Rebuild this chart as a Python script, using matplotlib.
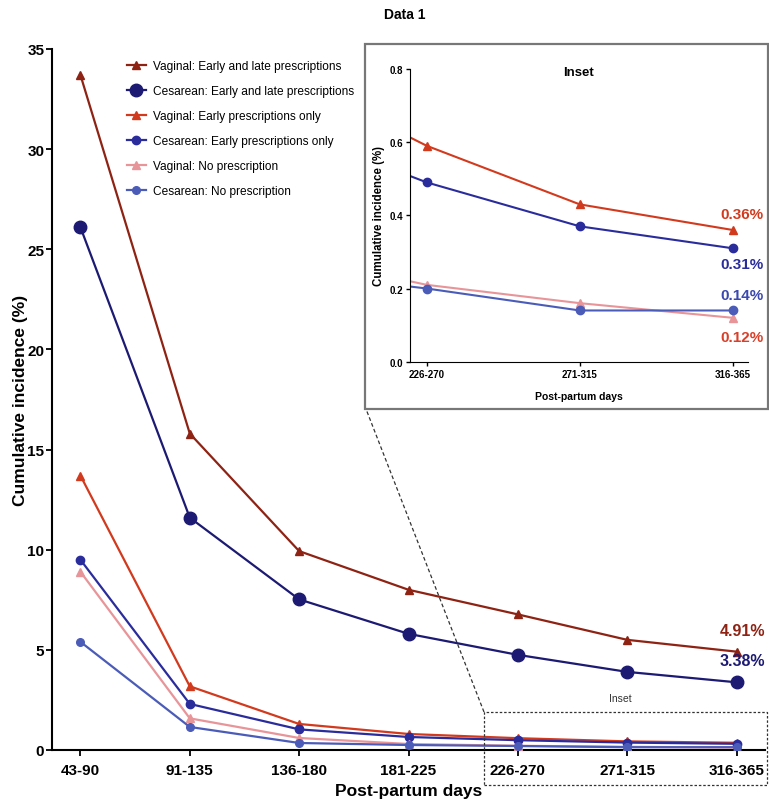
import matplotlib
matplotlib.use("Agg")
import matplotlib.pyplot as plt
from matplotlib.patches import Rectangle
from matplotlib.lines import Line2D

plt.rcParams['font.family'] = ['Liberation Sans', 'DejaVu Sans']

categories = ["43-90", "91-135", "136-180", "181-225", "226-270", "271-315", "316-365"]

vag_early_late = [33.7, 15.8, 9.93, 8.0, 6.77, 5.5, 4.91]
ces_early_late = [26.1, 11.6, 7.52, 5.8, 4.75, 3.9, 3.38]
vag_early_only = [13.7, 3.18, 1.3, 0.8, 0.59, 0.43, 0.36]
ces_early_only = [9.5, 2.3, 1.03, 0.65, 0.49, 0.37, 0.31]
vag_none = [8.9, 1.58, 0.6, 0.3, 0.21, 0.16, 0.12]
ces_none = [5.4, 1.15, 0.35, 0.25, 0.20, 0.14, 0.14]

labels = ["Vaginal: Early and late prescriptions",
          "Cesarean: Early and late prescriptions",
          "Vaginal: Early prescriptions only",
          "Cesarean: Early prescriptions only",
          "Vaginal: No prescription",
          "Cesarean: No prescription"]

series = [vag_early_late, ces_early_late, vag_early_only, ces_early_only, vag_none, ces_none]
colors = ["#8E2314", "#1C1A72", "#D23A1E", "#2A2C9C", "#E8959A", "#4B5CB8"]
markers = ["^", "o", "^", "o", "^", "o"]
msizes = [5.5, 9, 5.5, 6, 5.5, 5.5]

W, H = 769, 803
fig = plt.figure(figsize=(W / 100, H / 100), dpi=100)
ax = fig.add_axes([52 / W, 1 - 751 / H, (765 - 52) / W, (751 - 50) / H])

x = list(range(len(categories)))
for s, c, m, ms, lab in zip(series, colors, markers, msizes, labels):
    ax.plot(x, s, color=c, marker=m, markersize=ms, linewidth=1.6, label=lab,
            markeredgecolor=c, zorder=3)

ax.set_xlim(-0.26, 6.26)
ax.set_ylim(0, 35)
ax.set_yticks([0, 5, 10, 15, 20, 25, 30, 35])
ax.set_xticks(x)
ax.set_xticklabels(categories)
for sp in ["top", "right"]:
    ax.spines[sp].set_visible(False)
for sp in ["left", "bottom"]:
    ax.spines[sp].set_linewidth(1.5)
ax.tick_params(axis="both", direction="out", length=4, width=1.3, labelsize=11)
ax.tick_params(axis="y", pad=1.5)
ax.tick_params(axis="x", pad=5.5)
for t in ax.get_xticklabels() + ax.get_yticklabels():
    t.set_fontweight("bold")
ax.set_xlabel("Post-partum days", fontsize=12.5, fontweight="bold", labelpad=4)
ax.set_ylabel("Cumulative incidence (%)", fontsize=12.5, fontweight="bold")
ax.yaxis.set_label_coords(-0.033, 0.5)

leg = ax.legend(loc="upper left", bbox_to_anchor=(70 / (765 - 52), 1 - 6 / 701), frameon=False,
                fontsize=8.6, labelspacing=1.1, handlelength=1.6, handletextpad=0.6,
                borderaxespad=0.0)
leg.set_zorder(10)

ax.annotate(f"{vag_early_late[-1]:.2f}%", xy=(6, vag_early_late[-1]), xytext=(4, 15),
            textcoords="offset points", ha="center", va="center", color=colors[0],
            fontsize=11.5, fontweight="bold")
ax.annotate(f"{ces_early_late[-1]:.2f}%", xy=(6, ces_early_late[-1]), xytext=(4, 16),
            textcoords="offset points", ha="center", va="center", color=colors[1],
            fontsize=11.5, fontweight="bold")

fig.text(405 / W, 1 - 15 / H, "Data 1", ha="center", va="center", fontsize=10, fontweight="bold")

# dashed region marker and connector
fig.add_artist(Rectangle((484 / W, 1 - 786 / H), (767 - 484) / W, (786 - 713) / H,
                         transform=fig.transFigure, fill=False, linestyle=(0, (2, 1.5)),
                         linewidth=0.9, edgecolor="#333333"))
fig.add_artist(Line2D([484 / W, 366 / W], [1 - 713 / H, 1 - 410 / H], transform=fig.transFigure,
                      linestyle=(0, (3, 2)), linewidth=0.9, color="#333333"))
fig.text(620 / W, 1 - 699 / H, "Inset", ha="center", va="center", fontsize=7.5, color="#333333")

# inset frame
fig.add_artist(Rectangle((365 / W, 1 - 410 / H), (768 - 365) / W, (410 - 45) / H,
                         transform=fig.transFigure, facecolor="white", edgecolor="#777777",
                         linewidth=1.6, zorder=4))

axi = fig.add_axes([410 / W, 1 - 362.7 / H, (748 - 410) / W, (362.7 - 70) / H], zorder=5)
axi.patch.set_alpha(0)
for s, c, m, ms in zip(series[2:], colors[2:], markers[2:], [5.5, 6, 5.5, 6]):
    axi.plot(x, s, color=c, marker=m, markersize=ms, linewidth=1.5, markeredgecolor=c)
axi.set_xlim(3.89, 6.1)
axi.set_ylim(0, 0.8)
axi.set_yticks([0.0, 0.2, 0.4, 0.6, 0.8])
axi.set_xticks(x[4:])
axi.set_xticklabels(categories[4:])
for sp in ["top", "right"]:
    axi.spines[sp].set_visible(False)
axi.tick_params(axis="both", direction="out", length=3, width=1, labelsize=7, pad=2)
for t in axi.get_xticklabels() + axi.get_yticklabels():
    t.set_fontweight("bold")
axi.set_xlabel("Post-partum days", fontsize=7.5, fontweight="bold", labelpad=9)
axi.set_ylabel("Cumulative incidence (%)", fontsize=8.3, fontweight="bold", labelpad=3)
axi.text(0.5, 0.99, "Inset", transform=axi.transAxes, ha="center", va="center",
         fontsize=9.5, fontweight="bold")

ann_colors = ["#D23A1E", "#2A2C9C", "#D8402A", "#3A48B0"]
offs = [(7, 11.5), (7, -11.5), (7, -13.5), (7, 11.5)]
for s, c, o in zip(series[2:], ann_colors, offs):
    axi.annotate(f"{s[-1]:.2f}%", xy=(6, s[-1]), xytext=o, textcoords="offset points",
                 ha="center", va="center", color=c, fontsize=11, fontweight="bold")

fig.savefig("out.png", dpi=100)
